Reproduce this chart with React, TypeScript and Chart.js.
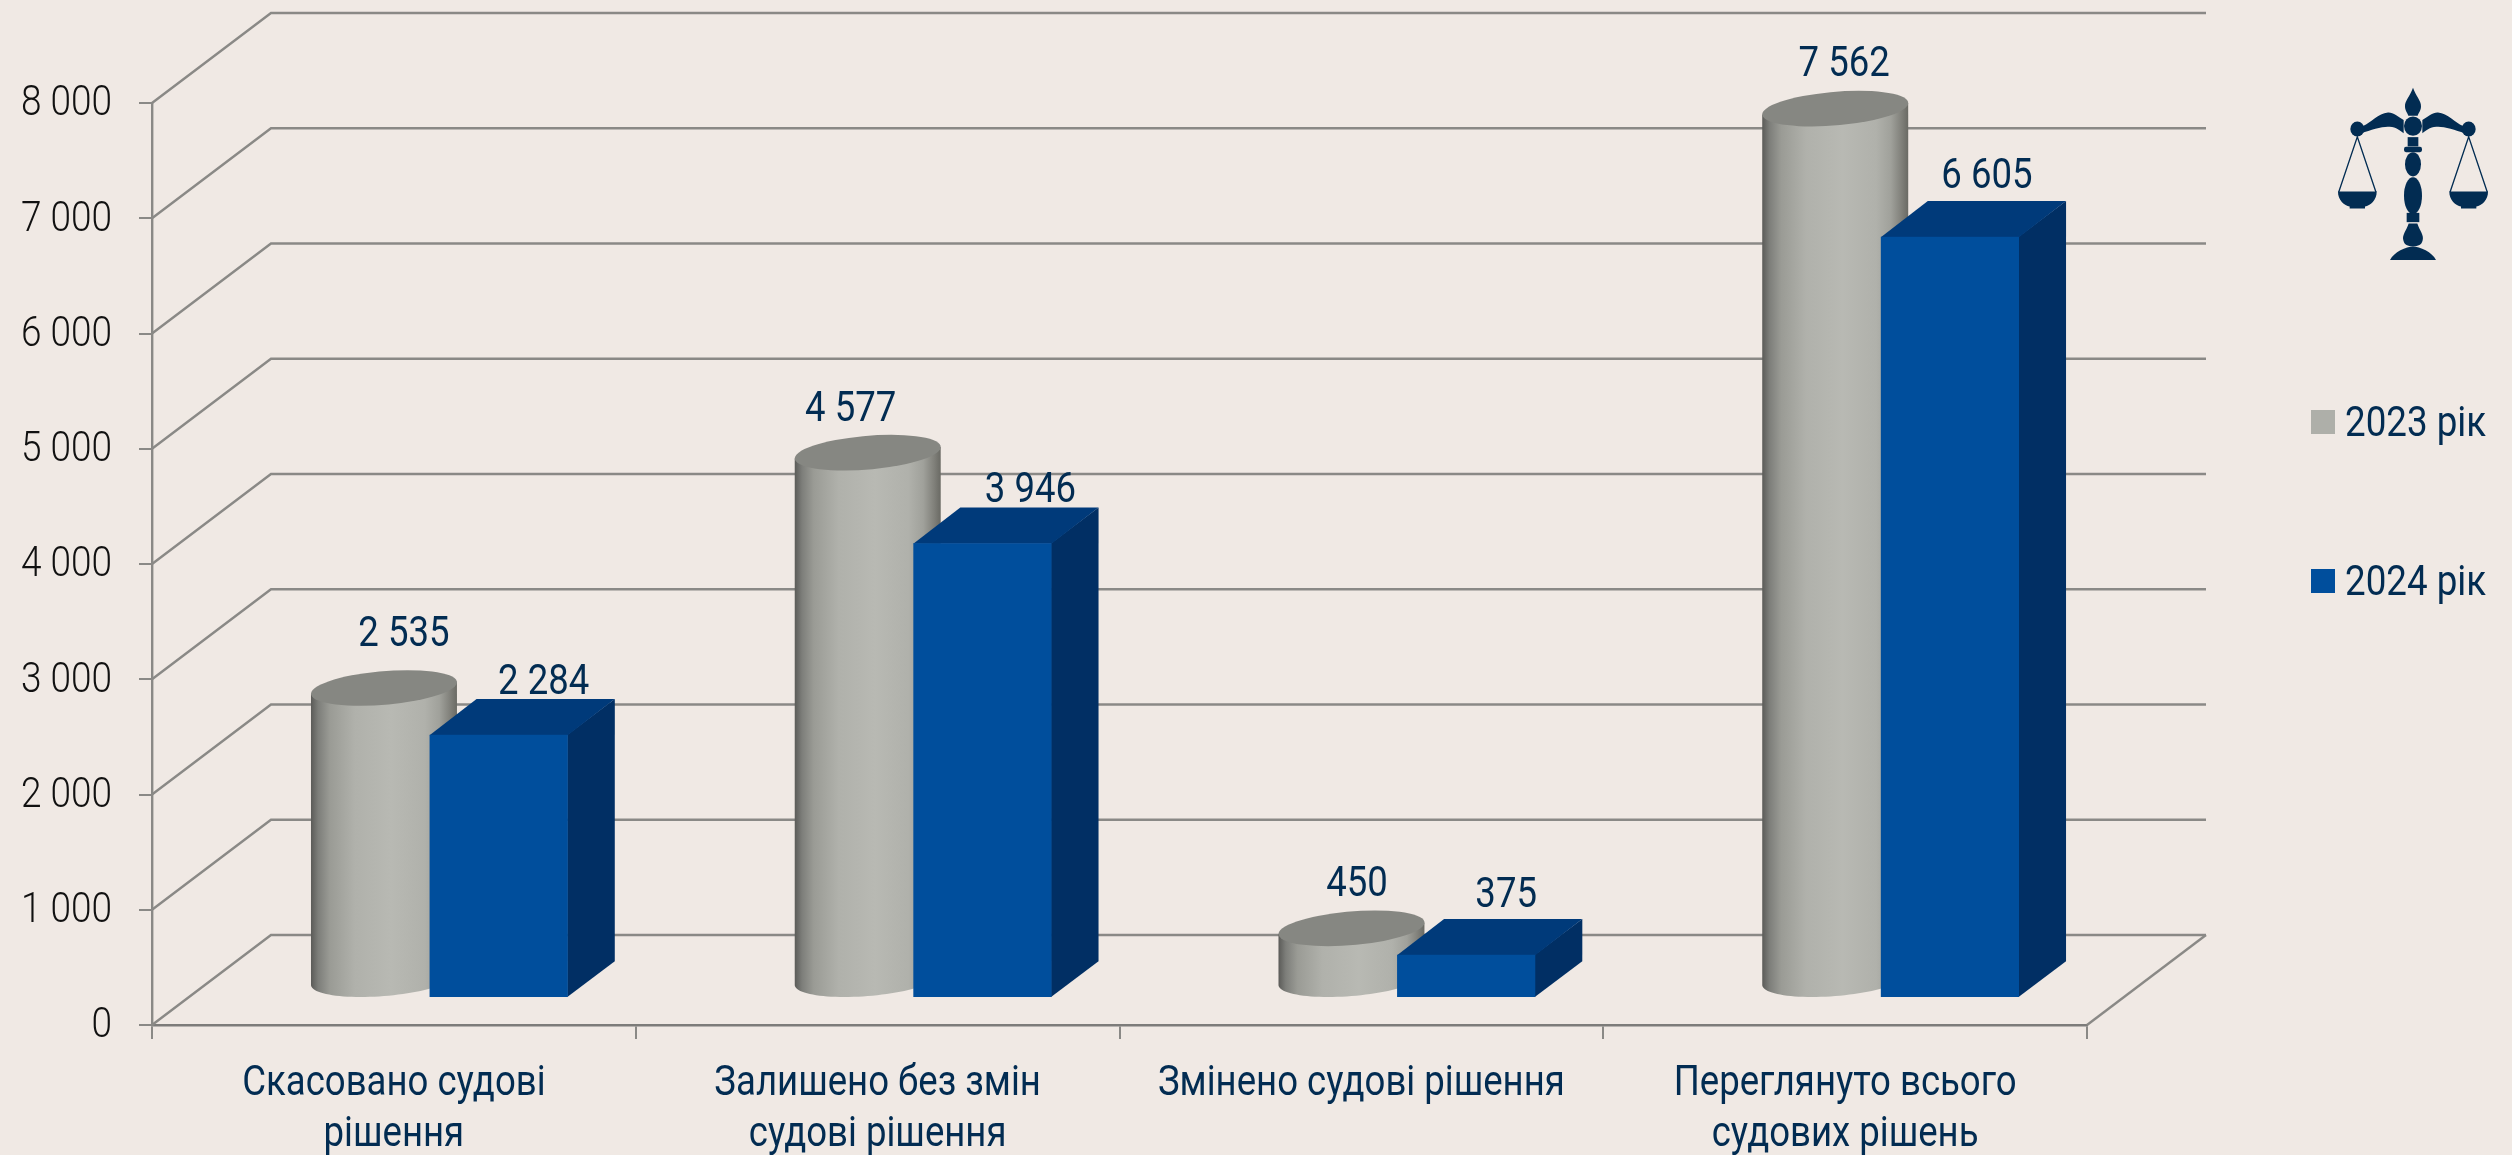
import React, { useEffect, useRef } from "react";
import { Chart, registerables } from "chart.js";

Chart.register(...registerables);

const categories = [
  ["Скасовано судові", "рішення"],
  ["Залишено без змін", "судові рішення"],
  ["Змінено судові рішення"],
  ["Переглянуто всього", "судових рішень"],
];
const values2023 = [2535, 4577, 450, 7562];
const values2024 = [2284, 3946, 375, 6605];
const seriesLabels = ["2023 рік", "2024 рік"];

const BG = "#f0e9e4";
const GRID = "#8a8986";
const NAVY = "#022c52";
const GRAY = "#aeafa9";
const BLUE = "#004e9c";
const BLUE_TOP = "#003a7a";
const BLUE_SIDE = "#012f64";

// 3D projection of the plot box
const WALL_DX = 119;
const WALL_DY = -90;
const WALL_END = 2206;
const BAR_SHIFT_X = 35.7;
const BAR_SHIFT_Y = -27;
const DEPTH_X = 47;
const DEPTH_Y = -35.7;

// horizontal squeeze standing in for a condensed face
let condense = 0.86;

// value label placement relative to each mark's top
const labelShift2023 = [[20, -42], [-17, -32], [5.5, -32], [9, -33]];
const labelShift2024 = [[45, -41], [48, -41], [40, -48], [37, -49]];

const fmt = (v: number) => String(v).replace(/\B(?=(\d{3})+$)/g, " ");

function drawWalls(chart: any) {
  const { ctx, chartArea: a, scales } = chart;
  const y = scales.y;
  ctx.save();
  ctx.strokeStyle = GRID;
  ctx.lineWidth = 2.4;
  ctx.lineJoin = "miter";
  y.ticks.forEach((t: any) => {
    const py = y.getPixelForValue(t.value);
    ctx.beginPath();
    ctx.moveTo(a.left, py);
    ctx.lineTo(a.left + WALL_DX, py + WALL_DY);
    ctx.lineTo(WALL_END, py + WALL_DY);
    ctx.stroke();
  });
  ctx.beginPath();
  ctx.moveTo(a.right, a.bottom);
  ctx.lineTo(a.right + WALL_DX, a.bottom + WALL_DY);
  ctx.stroke();
  ctx.restore();
}

function drawCylinder(ctx: any, el: any) {
  const w = el.width;
  const cx = el.x + BAR_SHIFT_X + DEPTH_X / 2;
  const baseY = el.base + BAR_SHIFT_Y + DEPTH_Y / 2;
  const topY = el.y + BAR_SHIFT_Y + DEPTH_Y / 2;
  const a = w / 2;
  const bx = DEPTH_X / 2;
  const by = DEPTH_Y / 2;
  const ext = Math.hypot(a, bx);
  const t0 = Math.atan2(bx, a);
  const pt = (t: number, yy: number) => [cx + a * Math.cos(t) + bx * Math.sin(t), yy + by * Math.sin(t)];

  const g = ctx.createLinearGradient(cx - ext, 0, cx + ext, 0);
  g.addColorStop(0, "#5b5b58");
  g.addColorStop(0.05, "#7d7e7a");
  g.addColorStop(0.13, "#9a9b95");
  g.addColorStop(0.3, "#b0b1ab");
  g.addColorStop(0.55, "#b8b9b3");
  g.addColorStop(0.78, "#b0b1ab");
  g.addColorStop(0.88, "#a0a19b");
  g.addColorStop(0.95, "#82827c");
  g.addColorStop(1, "#6a6a64");

  ctx.beginPath();
  const start = pt(t0 + Math.PI, topY);
  ctx.moveTo(start[0], start[1]);
  for (let i = 0; i <= 48; i++) {
    const p = pt(t0 + Math.PI + (Math.PI * i) / 48, baseY);
    ctx.lineTo(p[0], p[1]);
  }
  const end = pt(t0, topY);
  ctx.lineTo(end[0], end[1]);
  ctx.closePath();
  ctx.fillStyle = g;
  ctx.fill();

  ctx.save();
  ctx.transform(a, 0, bx, by, cx, topY);
  ctx.beginPath();
  ctx.arc(0, 0, 1, 0, Math.PI * 2);
  ctx.restore();
  ctx.fillStyle = "#868782";
  ctx.fill();
}

function drawBox(ctx: any, el: any, fill: string) {
  const l = el.x - el.width / 2 + BAR_SHIFT_X;
  const r = el.x + el.width / 2 + BAR_SHIFT_X;
  const t = el.y + BAR_SHIFT_Y;
  const b = el.base + BAR_SHIFT_Y;
  ctx.fillStyle = BLUE_SIDE;
  ctx.beginPath();
  ctx.moveTo(r - 0.5, t);
  ctx.lineTo(r + DEPTH_X, t + DEPTH_Y);
  ctx.lineTo(r + DEPTH_X, b + DEPTH_Y);
  ctx.lineTo(r - 0.5, b);
  ctx.closePath();
  ctx.fill();
  ctx.fillStyle = BLUE_TOP;
  ctx.beginPath();
  ctx.moveTo(l, t + 0.5);
  ctx.lineTo(l + DEPTH_X, t + DEPTH_Y);
  ctx.lineTo(r + DEPTH_X, t + DEPTH_Y);
  ctx.lineTo(r, t + 0.5);
  ctx.closePath();
  ctx.fill();
  ctx.fillStyle = fill;
  ctx.fillRect(l, t, r - l, b - t);
}

function drawValueLabels(chart: any) {
  const { ctx } = chart;
  ctx.save();
  condense = 0.85;
  ctx.font = "400 43px Roboto";
  ctx.fillStyle = NAVY;
  ctx.textAlign = "center";
  ctx.textBaseline = "alphabetic";
  chart.getDatasetMeta(0).data.forEach((el: any, i: number) => {
    const cx = el.x + BAR_SHIFT_X + DEPTH_X / 2;
    const ty = el.y + BAR_SHIFT_Y + DEPTH_Y / 2;
    ctx.fillText(fmt(values2023[i]), cx + labelShift2023[i][0], ty + labelShift2023[i][1]);
  });
  chart.getDatasetMeta(1).data.forEach((el: any, i: number) => {
    ctx.fillText(fmt(values2024[i]), el.x + BAR_SHIFT_X + labelShift2024[i][0], el.y + BAR_SHIFT_Y + labelShift2024[i][1]);
  });
  condense = 0.86;
  ctx.restore();
}

function drawLegend(chart: any) {
  const { ctx } = chart;
  const rows = [[410, 436], [569, 595]];
  ctx.save();
  condense = 0.875;
  ctx.font = "400 42px Roboto";
  ctx.textAlign = "left";
  ctx.textBaseline = "alphabetic";
  chart.data.datasets.forEach((ds: any, i: number) => {
    ctx.fillStyle = ds.backgroundColor;
    ctx.fillRect(2311, rows[i][0], 24, 24);
    ctx.fillStyle = NAVY;
    ctx.fillText(ds.label, 2345, rows[i][1]);
  });
  condense = 0.86;
  ctx.restore();
}

function drawIcon(ctx: any) {
  ctx.save();
  ctx.translate(2250, 60);
  ctx.scale(1 / 3, 1 / 2.8);
  ctx.fillStyle = NAVY;
  ctx.strokeStyle = NAVY;
  const C = 489;
  const sym = (fn: (m: number) => void) => {
    fn(1);
    fn(-1);
  };
  // finial
  ctx.beginPath();
  ctx.moveTo(C, 78);
  ctx.bezierCurveTo(497, 100, 514, 115, 513, 130);
  ctx.bezierCurveTo(513, 142, 505, 148, 503, 156);
  ctx.lineTo(475, 156);
  ctx.bezierCurveTo(473, 148, 465, 142, 465, 130);
  ctx.bezierCurveTo(464, 115, 481, 100, C, 78);
  ctx.fill();
  // centre ball
  ctx.beginPath();
  ctx.arc(C, 185, 27, 0, Math.PI * 2);
  ctx.fill();
  // beams, strings, pans
  sym((m) => {
    const X = (v: number) => C + m * v;
    ctx.beginPath();
    ctx.moveTo(X(28), 168);
    ctx.bezierCurveTo(X(45), 158, X(60), 146, X(75), 147);
    ctx.bezierCurveTo(X(105), 150, X(125), 175, X(150), 185);
    ctx.lineTo(X(155), 205);
    ctx.bezierCurveTo(X(125), 195, X(90), 185, X(70), 187);
    ctx.bezierCurveTo(X(50), 188, X(38), 198, X(28), 205);
    ctx.closePath();
    ctx.fill();
    ctx.beginPath();
    ctx.arc(X(167), 193, 21, 0, Math.PI * 2);
    ctx.fill();
    ctx.lineWidth = 4;
    ctx.beginPath();
    ctx.moveTo(X(111), 370);
    ctx.lineTo(X(167), 215);
    ctx.lineTo(X(223), 370);
    ctx.stroke();
    ctx.beginPath();
    ctx.moveTo(X(109), 368);
    ctx.lineTo(X(225), 368);
    ctx.bezierCurveTo(X(226), 392, X(205), 408, X(190), 410);
    ctx.lineTo(X(190), 416);
    ctx.lineTo(X(144), 416);
    ctx.lineTo(X(144), 410);
    ctx.bezierCurveTo(X(129), 408, X(108), 392, X(109), 368);
    ctx.fill();
  });
  // column
  ctx.fillRect(473, 216, 32, 26);
  ctx.beginPath();
  ctx.roundRect(462, 243, 54, 15, 6);
  ctx.fill();
  const bulb = (cy: number, rx: number, ry: number) => {
    ctx.beginPath();
    ctx.ellipse(C, cy, rx, ry, 0, 0, Math.PI * 2);
    ctx.fill();
  };
  bulb(292, 24, 34);
  bulb(380, 27, 52);
  ctx.fillRect(470, 428, 38, 26);
  ctx.beginPath();
  ctx.moveTo(476, 458);
  ctx.lineTo(502, 458);
  ctx.bezierCurveTo(510, 480, 522, 490, 518, 505);
  ctx.bezierCurveTo(515, 518, 505, 522, C, 522);
  ctx.bezierCurveTo(473, 522, 463, 518, 460, 505);
  ctx.bezierCurveTo(456, 490, 468, 480, 476, 458);
  ctx.fill();
  ctx.beginPath();
  ctx.moveTo(420, 560);
  ctx.bezierCurveTo(430, 538, 470, 522, C, 522);
  ctx.bezierCurveTo(508, 522, 548, 538, 558, 560);
  ctx.closePath();
  ctx.fill();
  ctx.restore();
}

const scene3d = {
  id: "scene3d",
  beforeDatasetDraw() {
    return false;
  },
  afterDatasetsDraw(chart: any) {
    const { ctx } = chart;
    drawWalls(chart);
    chart.getDatasetMeta(0).data.forEach((el: any) => drawCylinder(ctx, el));
    chart.getDatasetMeta(1).data.forEach((el: any) => drawBox(ctx, el, BLUE));
    drawValueLabels(chart);
    drawLegend(chart);
    drawIcon(ctx);
  },
};

export default function App() {
  const ref = useRef<HTMLCanvasElement | null>(null);
  useEffect(() => {
    document.body.style.margin = "0";
    document.body.style.background = BG;
    const canvas = ref.current!;
    const c2d: any = canvas.getContext("2d");
    const rawFill = c2d.fillText.bind(c2d);
    c2d.fillText = (t: string, x: number, y: number) => {
      c2d.save();
      c2d.translate(x, y + (c2d.textBaseline === "middle" ? 1.5 : 0));
      c2d.scale(condense, 1);
      rawFill(t, 0, 0);
      c2d.restore();
    };
    const chart = new Chart(canvas, {
      type: "bar",
      data: {
        labels: categories as any,
        datasets: [
          { label: seriesLabels[0], data: values2023, backgroundColor: GRAY },
          { label: seriesLabels[1], data: values2024, backgroundColor: BLUE },
        ],
      },
      plugins: [scene3d],
      options: {
        responsive: false,
        animation: false,
        events: [],
        layout: { padding: { top: 103, right: 425, left: 0, bottom: 0 } },
        datasets: { bar: { categoryPercentage: 0.5714, barPercentage: 1 } },
        plugins: { legend: { display: false }, tooltip: { enabled: false }, title: { display: false } },
        scales: {
          x: {
            afterFit: (s: any) => {
              s.height = 130;
            },
            grid: { drawOnChartArea: false, color: GRID, lineWidth: 2, tickLength: 14 },
            border: { color: "#7d7c7a", width: 2.4 },
            ticks: {
              color: NAVY,
              padding: 18,
              maxRotation: 0,
              autoSkip: false,
              font: { family: "Roboto", size: 42.5, weight: "400", lineHeight: 1.2 },
            },
          },
          y: {
            min: 0,
            max: 8000,
            afterFit: (s: any) => {
              s.width = 152;
            },
            grid: { drawOnChartArea: false, color: GRID, lineWidth: 2, tickLength: 13 },
            border: { color: GRID, width: 2.4 },
            ticks: {
              stepSize: 1000,
              color: "#111111",
              padding: 27,
              font: { family: "Roboto", size: 43, weight: "300" },
              callback: (v: any) => fmt(Number(v)),
            },
          },
        },
      } as any,
    });
    return () => chart.destroy();
  }, []);
  return (
    <div style={{ position: "fixed", left: 0, top: 0, width: 2512, height: 1155, background: BG }}>
      <canvas ref={ref} width={2512} height={1155} style={{ display: "block" }} />
    </div>
  );
}
